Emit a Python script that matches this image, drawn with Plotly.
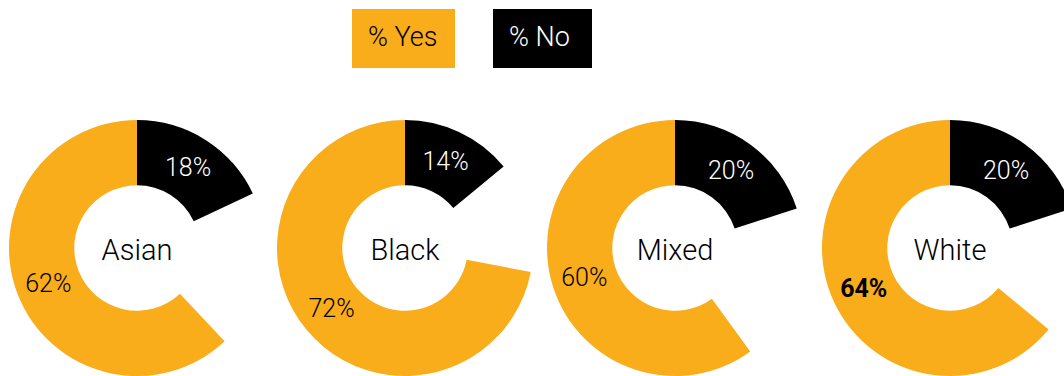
import plotly.graph_objects as go

# Survey answers by ethnic group (percent of respondents)
groups = ["Asian", "Black", "Mixed", "White"]
pct_yes = [62, 72, 60, 64]
pct_no = [18, 14, 20, 20]
bold_yes = [False, False, False, True]

YES_COLOR = "#F9AD1A"
NO_COLOR = "#000000"
FONT = "Roboto, sans-serif"

# canvas (slightly wider than the window so the last ring runs off the right edge)
W, H = 1080, 376
centers_px = [137, 405, 675, 950]
R = 128


def px_x(v):
    return v / W


def px_y(v):
    return 1 - v / H


fig = go.Figure()

for g, yes, no, bold, cx in zip(groups, pct_yes, pct_no, bold_yes, centers_px):
    rest = 100 - yes - no
    yes_txt = f"<b>{yes}%</b>" if bold else f"{yes}%"
    fig.add_trace(go.Pie(
        values=[no, rest, yes],
        labels=["% No", "", "% Yes"],
        text=[f"{no}%", "", yes_txt],
        textinfo="text",
        textposition="inside",
        insidetextorientation="horizontal",
        textfont=dict(family=FONT, size=25, weight=300,
                      color=["white", "black", "black"]),
        marker=dict(colors=[NO_COLOR, "rgba(0,0,0,0)", YES_COLOR],
                    line=dict(width=0)),
        hole=0.49,
        sort=False,
        direction="clockwise",
        rotation=0,
        showlegend=False,
        hoverinfo="skip",
        title=dict(text=g, position="middle center",
                   font=dict(family=FONT, size=29, weight=300, color="black")),
        domain=dict(x=[(cx - R) / W, (cx + R) / W], y=[0, 2 * R / H]),
    ))

# legend boxes
legend_items = [("% Yes", YES_COLOR, "black", 352, 455),
                ("% No", NO_COLOR, "white", 493, 592)]
shapes = []
annotations = []
for label, fill, fcol, x0, x1 in legend_items:
    shapes.append(dict(type="rect", xref="paper", yref="paper",
                       x0=px_x(x0), x1=px_x(x1), y0=px_y(68), y1=px_y(9),
                       fillcolor=fill, line=dict(width=0), layer="below"))
    annotations.append(dict(text=label, xref="paper", yref="paper",
                            x=px_x(x0 + 14), y=px_y(37), xanchor="left",
                            yanchor="middle", showarrow=False,
                            font=dict(family=FONT, size=27, weight=300,
                                      color=fcol)))

fig.update_layout(
    width=W, height=H,
    margin=dict(l=0, r=0, t=0, b=0),
    paper_bgcolor="white",
    plot_bgcolor="white",
    shapes=shapes,
    annotations=annotations,
    font=dict(family=FONT),
)

fig.write_html(
    "out.html",
    post_script="document.documentElement.style.overflow='hidden';"
                "document.body.style.overflow='hidden';",
)
